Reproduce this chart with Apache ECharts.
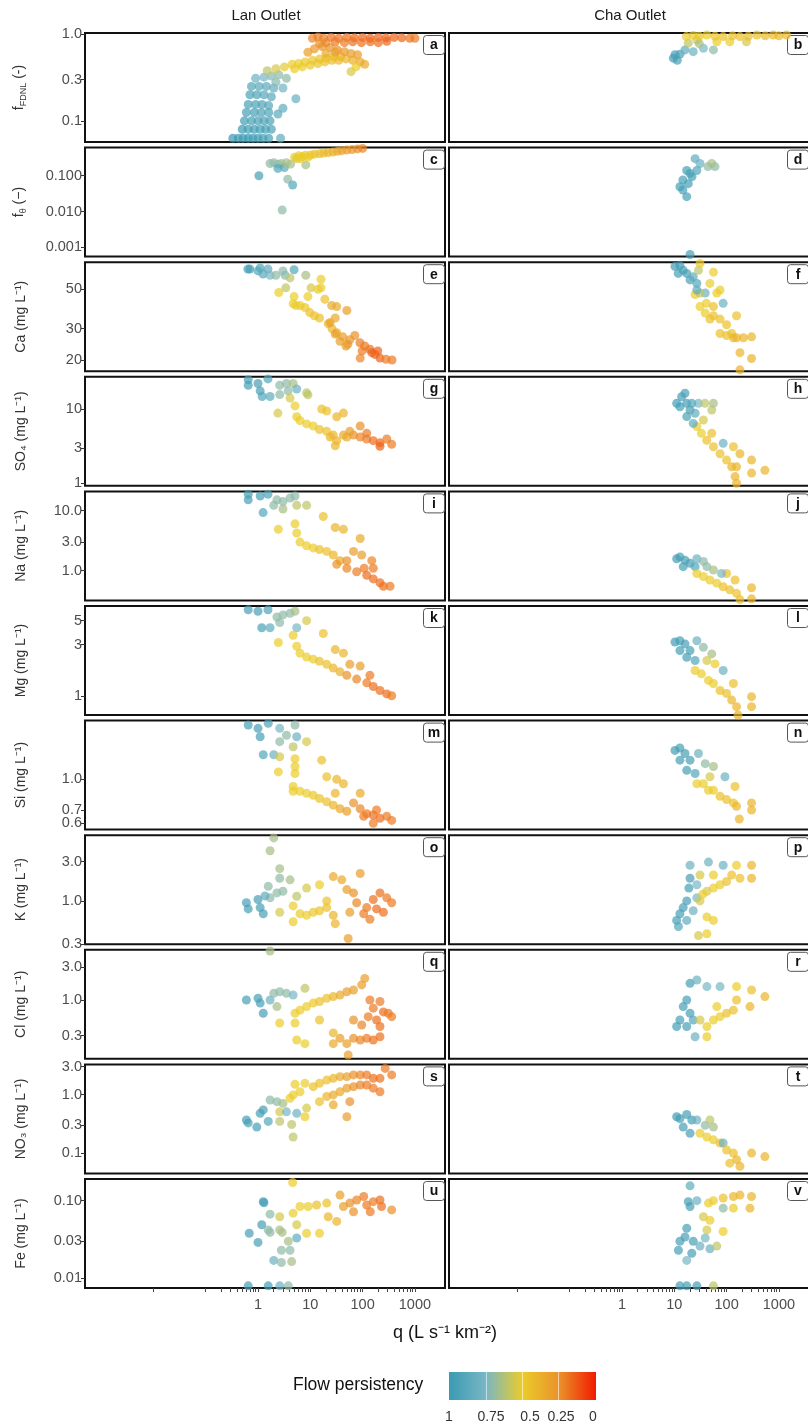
<!DOCTYPE html>
<html><head><meta charset="utf-8">
<script src="https://cdn.jsdelivr.net/npm/echarts@6/dist/echarts.min.js"></script>
<style>html,body{margin:0;padding:0;background:#fff}#c{width:808px;height:1428px}</style>
</head><body><div id="c"></div><script>
const FONT = 'Liberation Sans, Arial, Helvetica, sans-serif';

// ---- data: [q, value, flow persistency] ----
const lanFFDNL = [[0.33,0.063,1],[0.42,0.063,1],[0.52,0.063,1],[0.65,0.063,1],[0.8,0.063,0.98],[1.0,0.063,0.97],[1.25,0.063,0.96],[1.6,0.063,0.95],[2.7,0.063,0.85],
[0.5,0.08,1],[0.65,0.08,0.98],[0.85,0.08,0.97],[1.1,0.08,0.96],[1.4,0.08,0.95],[1.8,0.08,0.93],
[0.55,0.1,0.97],[0.75,0.1,0.96],[1.0,0.1,0.95],[1.3,0.1,0.94],[1.7,0.1,0.93],
[0.6,0.125,0.95],[0.85,0.125,0.95],[1.15,0.125,0.93],[1.6,0.125,0.92],[2.4,0.12,0.88],
[0.65,0.155,0.94],[0.9,0.155,0.93],[1.2,0.155,0.92],[1.6,0.15,0.9],[3.0,0.14,0.85],
[0.7,0.2,0.93],[0.95,0.2,0.92],[1.3,0.2,0.9],[1.8,0.19,0.88],[5.3,0.18,0.82],
[0.75,0.25,0.9],[1.05,0.25,0.88],[1.45,0.25,0.86],[2.0,0.24,0.84],[3.0,0.24,0.78],
[0.9,0.31,0.8],[1.3,0.32,0.76],[1.8,0.33,0.72],[2.5,0.34,0.7],[3.5,0.31,0.7],[2.2,0.28,0.72],
[1.5,0.38,0.6],[2.2,0.4,0.55],[3.2,0.42,0.52],[4.5,0.45,0.5],[6,0.46,0.5],[8,0.48,0.48],[11,0.5,0.47],[15,0.52,0.45],[20,0.53,0.45],[28,0.55,0.42],[38,0.55,0.4],
[5,0.4,0.5],[7,0.42,0.5],[10,0.44,0.48],[14,0.46,0.46],[19,0.48,0.45],[26,0.5,0.44],[35,0.5,0.42],[48,0.52,0.4],[65,0.5,0.38],[90,0.48,0.35],[60,0.37,0.55],[75,0.42,0.5],[110,0.45,0.35],
[9,0.62,0.3],[12,0.68,0.28],[17,0.72,0.25],[24,0.7,0.25],[33,0.66,0.25],[45,0.63,0.28],[20,0.6,0.35],[30,0.62,0.3],[60,0.6,0.3],[80,0.58,0.3],
[11,0.9,0.22],[14,0.93,0.2],[18,0.9,0.2],[25,0.92,0.18],[35,0.9,0.18],[50,0.92,0.17],[70,0.91,0.16],[100,0.92,0.15],[140,0.9,0.15],[200,0.92,0.15],[280,0.91,0.15],[400,0.92,0.15],[560,0.91,0.16],[800,0.9,0.18],[1000,0.9,0.2],
[20,0.8,0.22],[30,0.82,0.2],[45,0.8,0.2],[65,0.82,0.18],[95,0.8,0.18],[140,0.82,0.17],[200,0.8,0.17],[290,0.83,0.16],[15,0.78,0.25]];
const chaFFDNL = [[9.6,0.53,0.97],[10.3,0.58,0.96],[12.8,0.59,0.95],[11.4,0.5,0.96],[16,0.66,0.85],[23,0.63,0.8],[36,0.69,0.75],[56,0.66,0.7],[18.5,0.79,0.6],[27,0.86,0.55],[30,0.78,0.65],
[17,0.94,0.5],[23,0.97,0.5],[42,0.98,0.5],[86,0.94,0.45],[180,0.94,0.45],[380,0.98,0.45],[780,0.98,0.42],[1400,0.98,0.42],[115,0.82,0.5],[240,0.82,0.55],[65,0.82,0.5],
[30,0.95,0.48],[60,0.95,0.47],[130,0.96,0.45],[260,0.95,0.44],[550,0.96,0.43],[1000,0.96,0.42]];
const lanFTheta = [[1.04,0.1,0.95],[1.7,0.22,0.7],[2.0,0.23,0.7],[2.4,0.21,0.7],[2.8,0.22,0.68],[2.4,0.16,0.9],[3.2,0.17,0.88],[3.7,0.08,0.7],[4.6,0.055,0.9],[2.9,0.011,0.7],[3.5,0.23,0.65],[4.2,0.21,0.65],[8.2,0.2,0.65],
[5,0.33,0.5],[5.5,0.3,0.55],[6,0.36,0.5],[7,0.34,0.5],[8,0.37,0.48],[10,0.38,0.47],[12,0.4,0.45],[15,0.41,0.45],[18,0.43,0.42],[22,0.44,0.4],[27,0.46,0.38],[33,0.48,0.35],[40,0.5,0.32],[50,0.52,0.3],[63,0.54,0.27],[80,0.56,0.25],[100,0.58,0.22],[6.5,0.3,0.5],[9,0.33,0.5]];
const chaFTheta = [[25,0.3,0.85],[31,0.22,0.8],[44,0.18,0.7],[60,0.18,0.7],[52,0.22,0.65],[17.3,0.14,0.95],[20,0.116,0.95],[14.6,0.076,0.95],[12.8,0.049,0.95],[14.6,0.04,0.95],[17.3,0.026,0.95],[18.5,0.06,0.95],[21.8,0.094,0.95],[27,0.14,0.9],[20,0.00063,0.95]];
const lanCa = [[0.64,65,0.95],[0.7,65,0.95],[1.1,66,0.9],[1.0,63.5,0.9],[1.25,61,0.88],[1.55,65,0.85],[1.7,60,0.75],[2.2,60,0.7],[3,63.5,0.7],[3.3,60,0.72],[4.9,64.5,0.9],[4.1,58,0.6],[2.5,48,0.5],[3.4,51,0.6],[8.2,60,0.65],[10.3,51,0.55],[9,45.5,0.5],[16,51,0.5],[19,44,0.45],[16,57,0.5],[14,50,0.5],
[4.9,45.5,0.5],[4.7,41.5,0.5],[5.3,40.5,0.5],[6.4,40.5,0.5],[7.9,39.5,0.48],[9.8,37,0.45],[12,35.5,0.45],[15,34.5,0.45],[22,32,0.42],[26,30,0.4],[32,28.5,0.35],[42,27,0.3],[57,26,0.27],[71,27.5,0.25],[37,25.5,0.3],[52,24.5,0.25],[89,25,0.2],[110,24,0.2],[138,23,0.18],[150,22,0.15],[172,21.5,0.15],[195,22.5,0.15],[215,20.5,0.15],[280,20.2,0.2],[365,20,0.2],[98,22.5,0.2],[90,20.5,0.22],[48,24,0.3],[30,28,0.3],[24,32.5,0.3],[25.6,40.5,0.35],[32,40,0.35],[50,38,0.3],[30,34.5,0.35]];
const chaCa = [[10.3,67.3,0.97],[12.8,68,0.97],[14.8,64,0.95],[11.9,61.5,0.96],[17.3,61.5,0.95],[20,56.5,0.93],[23,58.9,0.85],[27,54,0.9],[29,64,0.6],[31,70,0.5],[56,62.5,0.5],[48,54,0.5],[39,47.7,0.8],[25,46.8,0.5],[31,47.7,0.6],[27,49.6,0.85],[41,41.7,0.5],[56,40,0.45],[86,41.7,0.8],[65,47.7,0.5],[75,49.6,0.5],[56,35.5,0.45],[75,34,0.45],[100,31.6,0.45],[125,28.2,0.45],[155,35.5,0.45],[155,26.7,0.4],[210,26.7,0.4],[300,27,0.4],[180,22,0.4],[300,20.4,0.4],[180,17.6,0.4],[135,26.7,0.4],[100,27.5,0.45],[75,28.2,0.45],[39,36.8,0.5],[48,34,0.45],[31,40,0.5]];
const lanSO4 = [[0.65,24.7,0.95],[0.65,20.8,0.95],[1.0,22,0.95],[1.55,25.4,0.9],[1.1,17.5,0.95],[1.2,14.7,0.9],[1.7,14.7,0.85],[2.6,20.8,0.7],[3.5,22,0.7],[4.7,22,0.65],[3.75,17.5,0.7],[5.5,18.6,0.8],[2.6,15.6,0.7],[2.4,8.8,0.55],[4.1,14,0.55],[5.1,11,0.5],[5.5,7.85,0.5],[8.5,16.5,0.6],[9,15.5,0.6],[16.5,10,0.45],[20.6,9.4,0.45],[32,7.85,0.4],[43,8.8,0.4],
[6.35,7,0.5],[8.5,6.3,0.5],[11.4,5.9,0.5],[15,5.3,0.45],[20.6,5,0.45],[27.5,4.45,0.4],[32,3.75,0.4],[30,3.2,0.4],[50,4.2,0.35],[67,4.45,0.25],[90,4.2,0.22],[120,3.95,0.2],[160,3.75,0.17],[215,3.5,0.17],[215,3.15,0.15],[290,3.95,0.2],[360,3.35,0.2],[90,5.9,0.25],[57,5,0.3],[120,4.7,0.2],[43,4.45,0.35],[24,4.2,0.4]];
const chaSO4 = [[13.8,14.6,0.95],[16,16.3,0.95],[11.1,11.9,0.97],[12.8,10.7,0.96],[17.3,11.9,0.95],[20,9.7,0.95],[17.3,7.9,0.93],[25,8.75,0.85],[29,11.9,0.75],[38.6,11.9,0.6],[52,9.7,0.6],[56,11.9,0.65],[27,5.8,0.5],[33,4.7,0.5],[41.7,3.8,0.45],[56,3.1,0.45],[75,2.5,0.45],[86,3.45,0.8],[100,2.05,0.45],[125,1.67,0.4],[155,1.67,0.4],[145,1.23,0.4],[155,1.0,0.4],[300,2.05,0.4],[300,1.37,0.4],[540,1.5,0.4],[135,3.1,0.45],[180,2.5,0.4],[52,4.7,0.45],[36,7.1,0.55],[23,6.4,0.85],[21.6,11.9,0.9]];
const lanNa = [[0.65,18.8,0.95],[0.65,15.2,0.95],[1.1,17.6,0.95],[1.55,18.8,0.92],[1.25,9.3,0.9],[2.3,15.2,0.7],[3,14.2,0.7],[4.1,16.3,0.7],[5.1,17.6,0.7],[2,12.3,0.7],[3,10.7,0.65],[5.5,12.3,0.6],[8.5,12.3,0.6],[2.45,4.9,0.5],[5.1,6.05,0.5],[5.5,4.25,0.5],[6.35,3,0.5],[8.5,2.6,0.5],[11.4,2.4,0.5],[15,2.25,0.45],[20.6,2.1,0.45],[27.5,1.83,0.4],[37,1.47,0.35],[17.7,8,0.45],[30,5.25,0.4],[43,4.9,0.4],[90,3.45,0.35],[67,2.1,0.3],[96,1.83,0.3],[32,1.28,0.25],[50,1.1,0.22],[77,0.96,0.2],[120,0.84,0.17],[160,0.73,0.17],[215,0.63,0.17],[250,0.55,0.18],[335,0.55,0.2],[160,1.1,0.2],[107,1.1,0.2],[50,1.47,0.25],[150,1.47,0.22]];
const chaNa = [[11.1,1.58,0.97],[12.8,1.7,0.96],[16,1.5,0.95],[20,1.33,0.95],[14.8,1.17,0.95],[25,1.17,0.9],[27,1.58,0.8],[36,1.43,0.7],[42,1.17,0.7],[56,1.03,0.65],[27,0.9,0.5],[36,0.8,0.5],[48,0.7,0.5],[65,0.62,0.5],[86,0.54,0.45],[115,0.48,0.45],[145,0.7,0.45],[155,0.42,0.45],[180,0.33,0.45],[300,0.52,0.4],[300,0.34,0.4],[100,0.9,0.45],[80,0.9,0.75]];
const lanMg = [[0.65,6.3,0.95],[1.0,6.1,0.95],[1.55,6.3,0.92],[1.18,4.3,0.93],[1.7,4.3,0.85],[2.3,5.4,0.7],[3,5.65,0.7],[4.1,5.85,0.7],[5.1,6.1,0.65],[2.6,4.8,0.7],[5.5,4.3,0.75],[8.5,5,0.55],[2.45,3.14,0.5],[4.7,3.66,0.5],[5.5,2.9,0.5],[6.35,2.5,0.5],[8.5,2.3,0.5],[11.4,2.2,0.5],[15,2.1,0.45],[20.6,1.97,0.45],[27.5,1.82,0.4],[37,1.68,0.38],[17.7,3.8,0.45],[30,2.7,0.4],[43,2.5,0.4],[57,1.97,0.3],[90,1.9,0.3],[50,1.56,0.25],[77,1.44,0.22],[120,1.33,0.2],[160,1.23,0.18],[215,1.13,0.18],[290,1.05,0.17],[360,1.01,0.2],[138,1.56,0.2]];
const chaMg = [[10.3,3.17,0.97],[12.8,3.26,0.96],[16,3.04,0.95],[12.8,2.64,0.96],[20,2.64,0.95],[17.3,2.29,0.95],[25,2.14,0.9],[27,3.26,0.8],[36,2.83,0.7],[52,2.46,0.65],[25,1.73,0.5],[33,1.61,0.5],[45,1.4,0.5],[56,1.31,0.5],[75,1.13,0.45],[100,1.06,0.45],[86,1.73,0.8],[135,1.31,0.45],[125,0.92,0.4],[155,0.8,0.4],[165,0.67,0.4],[300,0.99,0.4],[300,0.8,0.4],[60,1.99,0.5],[42,2.14,0.55]];
const lanSi = [[0.65,1.88,0.95],[1.0,1.81,0.95],[1.57,1.92,0.92],[1.1,1.64,0.95],[1.26,1.33,0.9],[2,1.33,0.8],[2.6,1.55,0.7],[3.5,1.67,0.7],[5.1,1.88,0.7],[2.6,1.81,0.75],[5.5,1.64,0.8],[4.7,1.46,0.6],[8.5,1.55,0.55],[2.6,1.3,0.55],[5.1,1.27,0.5],[2.45,1.09,0.5],[5.1,1.16,0.5],[5.1,1.07,0.5],[16.5,1.25,0.45],[20.6,1.03,0.45],[32,1.0,0.4],[43,0.95,0.4],
[4.7,0.92,0.5],[4.7,0.87,0.5],[6.35,0.87,0.5],[8.5,0.85,0.5],[11.4,0.83,0.48],[15,0.8,0.46],[20.6,0.77,0.45],[27.5,0.74,0.4],[30,0.85,0.4],[90,0.85,0.35],[37,0.71,0.35],[50,0.69,0.3],[67,0.76,0.25],[90,0.71,0.22],[120,0.67,0.2],[160,0.66,0.18],[185,0.7,0.2],[215,0.635,0.17],[160,0.6,0.2],[290,0.65,0.2],[360,0.62,0.2],[105,0.65,0.2]];
const chaSi = [[10.3,1.4,0.97],[12.8,1.44,0.96],[16,1.35,0.95],[12.8,1.25,0.96],[20,1.25,0.95],[17.3,1.11,0.95],[25,1.07,0.9],[29,1.35,0.8],[39,1.2,0.7],[56,1.16,0.65],[27,0.95,0.5],[36,0.95,0.5],[45,0.88,0.5],[56,0.88,0.5],[75,0.82,0.45],[100,0.79,0.45],[93,1.03,0.8],[145,0.92,0.45],[135,0.76,0.45],[155,0.73,0.4],[300,0.76,0.4],[300,0.7,0.4],[175,0.63,0.4],[48,1.03,0.55]];
const lanK = [[2,5.8,0.65],[1.7,4.05,0.65],[2.6,2.46,0.65],[2.6,1.88,0.7],[1.57,1.5,0.7],[4.1,1.8,0.65],[5.5,1.14,0.6],[8.5,1.43,0.55],[15,1.57,0.5],[1.7,1.09,0.7],[2.3,1.25,0.7],[3,1.31,0.7],[0.6,0.95,0.95],[0.65,0.8,0.95],[1.0,1.04,0.95],[1.1,0.83,0.95],[1.26,0.7,0.95],[1.36,1.15,0.85],[2.6,0.73,0.55],[4.7,0.87,0.5],[4.7,0.56,0.5],[6.35,0.7,0.5],[8.5,0.67,0.5],[11.4,0.73,0.48],[15,0.76,0.46],[20.6,0.83,0.45],[27.5,0.67,0.4],[30,0.53,0.4],[20.6,1.0,0.45],[27.5,1.97,0.35],[40,1.8,0.35],[50,1.37,0.3],[53,0.35,0.3],[57,0.73,0.3],[67,1.25,0.25],[90,2.15,0.3],[77,0.95,0.22],[105,0.7,0.2],[120,0.83,0.2],[160,1.04,0.18],[185,0.8,0.17],[215,1.25,0.18],[250,0.73,0.17],[290,1.09,0.2],[360,0.95,0.2],[138,0.6,0.2]];
const chaK = [[20,2.7,0.8],[45,2.95,0.8],[86,2.7,0.8],[155,2.7,0.5],[300,2.7,0.4],[31,2.06,0.55],[56,2.06,0.5],[125,2.06,0.45],[180,1.88,0.45],[300,1.88,0.4],[20,1.88,0.95],[19,1.43,0.95],[27,1.57,0.75],[42,1.31,0.55],[56,1.43,0.5],[75,1.57,0.5],[100,1.72,0.45],[17.3,1.0,0.95],[14.8,0.83,0.95],[12.8,0.7,0.96],[11.1,0.58,0.96],[12,0.49,0.9],[17.3,0.58,0.85],[23,0.76,0.8],[27,1.09,0.75],[29,0.38,0.55],[42,0.4,0.5],[42,0.64,0.5],[56,0.58,0.5],[31,1.0,0.55],[35,1.2,0.5]];
const lanCl = [[1.7,5.2,0.65],[0.6,1.0,0.95],[1.0,1.06,0.95],[1.1,0.9,0.95],[1.26,0.64,0.95],[1.7,1.0,0.8],[2,1.25,0.7],[2.6,1.32,0.7],[3.5,1.25,0.7],[4.7,1.18,0.75],[2.3,0.8,0.65],[2.6,0.46,0.5],[5.1,0.46,0.5],[7.9,1.48,0.6],[5.1,0.64,0.5],[6.35,0.71,0.5],[8.5,0.8,0.5],[11.4,0.9,0.48],[15,0.95,0.45],[20.6,1.06,0.45],[27.5,1.12,0.4],[37,1.18,0.35],[50,1.32,0.3],[67,1.4,0.3],[96,1.66,0.3],[110,2.07,0.3],[5.5,0.26,0.5],[7.9,0.23,0.5],[15,0.51,0.45],[27.5,0.33,0.4],[27.5,0.23,0.35],[37,0.275,0.3],[53,0.157,0.3],[50,0.23,0.3],[67,0.275,0.25],[90,0.26,0.22],[120,0.275,0.2],[160,0.26,0.18],[215,0.29,0.18],[67,0.51,0.25],[96,0.43,0.22],[128,0.57,0.2],[138,1.0,0.2],[160,0.76,0.2],[185,0.51,0.18],[215,0.41,0.18],[250,0.67,0.17],[310,0.64,0.2],[360,0.57,0.2],[215,0.95,0.2]];
const chaCl = [[20,1.75,0.95],[27,1.96,0.8],[42,1.57,0.75],[75,1.57,0.75],[155,1.57,0.5],[300,1.4,0.45],[540,1.12,0.4],[155,1.0,0.45],[280,0.8,0.4],[17.3,1.0,0.95],[14.8,0.8,0.95],[12.8,0.51,0.96],[11.1,0.41,0.96],[17.3,0.41,0.95],[23,0.51,0.9],[20,0.64,0.95],[25,0.29,0.8],[31,0.51,0.55],[42,0.41,0.5],[56,0.51,0.5],[75,0.57,0.5],[100,0.64,0.45],[135,0.71,0.45],[42,0.29,0.5],[65,0.8,0.5]];
const lanNO3 = [[0.6,0.37,0.95],[0.65,0.33,0.95],[0.95,0.28,0.95],[1.1,0.48,0.95],[1.26,0.55,0.95],[1.57,0.35,0.9],[1.7,0.81,0.7],[2.3,0.76,0.7],[2.6,0.51,0.55],[3,0.71,0.65],[3.5,0.51,0.75],[2.6,0.35,0.6],[4.4,0.31,0.6],[4.7,0.19,0.6],[5.5,0.48,0.8],[5.1,1.5,0.5],[7.9,1.56,0.5],[4.1,0.87,0.5],[4.7,0.99,0.5],[8.5,0.59,0.55],[7.9,0.42,0.5],[6.35,1.12,0.5],[11.4,1.37,0.45],[15,1.56,0.45],[20.6,1.77,0.45],[27.5,1.9,0.4],[37,2.03,0.35],[50,2.03,0.3],[67,2.17,0.25],[90,2.17,0.22],[120,2.17,0.2],[160,1.9,0.18],[215,1.9,0.18],[270,2.8,0.2],[360,2.17,0.2],[15,0.76,0.45],[20.6,0.93,0.4],[27.5,0.99,0.35],[37,1.12,0.35],[50,1.29,0.3],[67,1.37,0.25],[90,1.46,0.22],[120,1.46,0.2],[160,1.29,0.2],[215,1.12,0.2],[57,0.76,0.25],[50,0.42,0.3],[27.5,0.67,0.35]];
const chaNO3 = [[11.1,0.42,0.97],[12.8,0.39,0.96],[17.3,0.46,0.95],[21.6,0.37,0.95],[14.8,0.28,0.95],[20,0.22,0.95],[27,0.37,0.8],[39,0.3,0.7],[56,0.28,0.65],[31,0.22,0.5],[42,0.19,0.5],[56,0.17,0.5],[75,0.15,0.45],[86,0.15,0.8],[100,0.114,0.45],[135,0.101,0.45],[155,0.078,0.4],[180,0.06,0.4],[300,0.101,0.4],[540,0.088,0.4],[115,0.068,0.45],[48,0.37,0.6]];
const lanFe = [[4.6,0.171,0.5],[1.26,0.097,0.95],[1.3,0.094,0.95],[1.7,0.067,0.7],[1.18,0.049,0.95],[0.68,0.038,0.95],[1.0,0.029,0.95],[1.57,0.042,0.7],[1.7,0.039,0.7],[2.6,0.062,0.55],[2.6,0.042,0.65],[2.9,0.039,0.65],[3.8,0.03,0.65],[2.8,0.023,0.7],[4.1,0.023,0.7],[2.0,0.017,0.8],[2.8,0.016,0.7],[4.4,0.0164,0.65],[5.5,0.033,0.85],[0.65,0.008,0.95],[1.57,0.008,0.95],[2.6,0.008,0.8],[3.8,0.008,0.7],[4.7,0.069,0.5],[5.5,0.049,0.55],[6.35,0.084,0.5],[9.1,0.084,0.5],[8.5,0.038,0.5],[15,0.038,0.5],[13.2,0.088,0.45],[20.6,0.093,0.45],[22,0.062,0.4],[32,0.054,0.4],[37,0.118,0.3],[43,0.084,0.3],[57,0.093,0.25],[77,0.102,0.22],[105,0.113,0.2],[120,0.088,0.2],[160,0.097,0.2],[215,0.102,0.18],[230,0.084,0.18],[360,0.076,0.25],[67,0.072,0.25],[140,0.072,0.2]];
const chaFe = [[20,0.155,0.85],[20,0.084,0.95],[18.5,0.097,0.95],[27,0.1,0.8],[17.3,0.044,0.95],[16,0.034,0.95],[12.8,0.03,0.95],[12,0.023,0.95],[17.3,0.017,0.75],[21.6,0.021,0.95],[23,0.03,0.95],[31,0.026,0.8],[39,0.033,0.75],[48,0.024,0.8],[65,0.026,0.6],[42,0.042,0.55],[45,0.093,0.5],[56,0.1,0.5],[36,0.062,0.55],[48,0.056,0.5],[86,0.04,0.5],[86,0.08,0.7],[135,0.08,0.5],[180,0.118,0.4],[135,0.113,0.4],[86,0.108,0.45],[300,0.113,0.4],[280,0.08,0.4],[12.8,0.008,0.95],[17.3,0.008,0.95],[27,0.008,0.95],[56,0.008,0.6]];

// ---- axes / ticks ----
const panelLetters = ['a','b','c','d','e','f','g','h','i','j','k','l','m','n','o','p','q','r','s','t','u','v'];
const columnTitles = ['Lan Outlet','Cha Outlet'];
const yTitles = ['{t|f}{s|FDNL}{t| (-)}','{t|f}{s|θ}{t| (−)}','Ca (mg L⁻¹)','SO₄ (mg L⁻¹)','Na (mg L⁻¹)','Mg (mg L⁻¹)','Si (mg L⁻¹)','K (mg L⁻¹)','Cl (mg L⁻¹)','NO₃ (mg L⁻¹)','Fe (mg L⁻¹)'];
const yTicks = [[0.1,0.3,1],[0.001,0.01,0.1],[20,30,50],[1,3,10],[0.3,1,3,10],[1,3,5],[0.6,0.7,1],[0.3,1,3],[0.3,1,3],[0.1,0.3,1,3],[0.01,0.03,0.1]];
const yTickLabels = [['0.1','0.3','1.0'],['0.001','0.010','0.100'],['20','30','50'],['1','3','10'],['0.3','1.0','3.0','10.0'],['1','3','5'],['0.6','0.7','1.0'],['0.3','1.0','3.0'],['0.3','1.0','3.0'],['0.1','0.3','1.0','3.0'],['0.01','0.03','0.10']];
// tick labels that sit too close to a neighbour are drawn on an overlaid twin axis
const yCrowdedLabels = [[],[],[],[],[],[],[0.7],[],[],[],[]];
const yRanges = [[0.057,1.035],[0.00055,0.61],[17.3,71.1],[0.925,27.1],[0.32,21],[0.67,6.83],[0.557,1.98],[0.299,6.25],[0.138,5.42],[0.0455,3.28],[0.0075,0.19]];
const xRange = [0.000492,3764];
const xLabelValues = [1,10,100,1000];
const xTickValues = [0.01,0.1,0.2,0.3,0.4,0.5,0.6,0.7,0.8,0.9,1,2,3,4,5,6,7,8,9,10,20,30,40,50,60,70,80,90,100,200,300,400,500,600,700,800,900,1000];
const legendBreaks = ['1','0.75','0.5','0.25','0'];
const palette = ['#F21A00','#EA922A','#EBCC2A','#78B7C5','#3B9AB2']; // persistency 0 -> 1

const lanData = [lanFFDNL,lanFTheta,lanCa,lanSO4,lanNa,lanMg,lanSi,lanK,lanCl,lanNO3,lanFe];
const chaData = [chaFFDNL,chaFTheta,chaCa,chaSO4,chaNa,chaMg,chaSi,chaK,chaCl,chaNO3,chaFe];

// ---- layout ----
const colLeft = [85, 449], colW = 360;
const rowTop0 = 33, rowPitch = 114.6, rowH = 109;
const nRows = 11;

function labelFormatter(tv, labs) {
  return v => { let k = 0, best = 1e9; tv.forEach((t, i) => { const d = Math.abs(Math.log(t) - Math.log(v)); if (d < best) {best = d; k = i;} }); return labs[k]; };
}
const yLabelStyle = {color: '#4D4D4D', fontSize: 14.5, fontFamily: FONT, margin: 3, showMinLabel: true, showMaxLabel: true, hideOverlap: false};

const grids = [], xAxes = [], yAxes = [], series = [], graphics = [], extraY = [];
for (let r = 0; r < nRows; r++) {
  for (let c = 0; c < 2; c++) {
    const idx = r * 2 + c;
    const top = rowTop0 + r * rowPitch;
    grids.push({left: colLeft[c], top: top, width: colW, height: rowH, show: true,
      borderColor: '#111', borderWidth: 2, backgroundColor: 'transparent', containLabel: false, outerBoundsMode: 'none'});
    const last = r === nRows - 1;
    xAxes.push({type: 'log', logBase: 10, gridIndex: idx, min: xRange[0], max: xRange[1],
      axisLine: {show: false}, splitLine: {show: false},
      axisTick: {show: last, length: 4, lineStyle: {color: '#444', width: 1}, customValues: xTickValues},
      axisLabel: {show: last, customValues: xLabelValues, color: '#4D4D4D', fontSize: 14.5, fontFamily: FONT, margin: 9,
        showMinLabel: true, showMaxLabel: true, formatter: v => String(Math.round(v))}
    });
    const labs = yTickLabels[r], tv = yTicks[r];
    const crowd = yCrowdedLabels[r];
    const mainLabels = tv.filter(t => crowd.indexOf(t) < 0);
    yAxes.push({type: 'log', logBase: 10, gridIndex: idx, position: 'left', min: yRanges[r][0], max: yRanges[r][1],
      axisLine: {show: false}, splitLine: {show: false},
      name: c === 0 ? yTitles[r] : '', nameLocation: 'middle', nameRotate: 90, nameGap: 57,
      nameTextStyle: {color: '#333', fontSize: 14, fontFamily: FONT,
        rich: {t: {fontSize: 14, color: '#333', fontFamily: FONT, lineHeight: 18},
               s: {fontSize: 9, color: '#333', fontFamily: FONT, verticalAlign: 'bottom', lineHeight: 9}}},
      axisTick: {show: c === 0, length: 4, lineStyle: {color: '#333', width: 1}, customValues: tv},
      axisLabel: Object.assign({show: c === 0, customValues: mainLabels, formatter: labelFormatter(tv, labs)}, yLabelStyle)
    });
    if (c === 0 && crowd.length) {
      extraY.push({type: 'log', logBase: 10, gridIndex: idx, position: 'left', offset: 0, min: yRanges[r][0], max: yRanges[r][1],
        axisLine: {show: false, onZero: false}, splitLine: {show: false}, axisTick: {show: false},
        axisLabel: Object.assign({show: true, customValues: crowd, formatter: labelFormatter(tv, labs)}, yLabelStyle)});
    }
    series.push({type: 'scatter', xAxisIndex: idx, yAxisIndex: idx, data: (c === 0 ? lanData : chaData)[r],
      symbolSize: 9, itemStyle: {opacity: 0.7}, silent: true, clip: true});
    const right = colLeft[c] + colW;
    graphics.push({type: 'group', left: right - 22, top: top + 2, children: [
      {type: 'rect', shape: {x: 0, y: 0, width: 21, height: 19, r: 3}, style: {fill: '#fff', stroke: '#555', lineWidth: 1}},
      {type: 'text', style: {x: 10.5, y: 10, text: panelLetters[idx], align: 'center', verticalAlign: 'middle', fill: '#111', font: 'bold 14px ' + FONT}}
    ]});
  }
}
graphics.push({type: 'text', style: {x: 266, y: 16, text: columnTitles[0], align: 'center', verticalAlign: 'middle', fill: '#1a1a1a', font: '15px ' + FONT}});
graphics.push({type: 'text', style: {x: 630, y: 16, text: columnTitles[1], align: 'center', verticalAlign: 'middle', fill: '#1a1a1a', font: '15px ' + FONT}});
graphics.push({type: 'text', style: {x: 445, y: 1333, text: 'q (L s⁻¹ km⁻²)', align: 'center', verticalAlign: 'middle', fill: '#111', font: '18px ' + FONT}});
graphics.push({type: 'text', style: {x: 293, y: 1385, text: 'Flow persistency', align: 'left', verticalAlign: 'middle', fill: '#111', font: '17.5px ' + FONT}});
graphics.push({type: 'rect', shape: {x: 449, y: 1372, width: 147, height: 28},
  style: {fill: new echarts.graphic.LinearGradient(0, 0, 1, 0, [
    {offset: 0, color: palette[4]}, {offset: 0.25, color: palette[3]}, {offset: 0.5, color: palette[2]}, {offset: 0.75, color: palette[1]}, {offset: 1, color: palette[0]}])}});
[486.5, 522.5, 558.5].forEach(x => {
  graphics.push({type: 'line', shape: {x1: x, y1: 1372, x2: x, y2: 1400}, style: {stroke: 'rgba(255,255,255,0.55)', lineWidth: 1}});
});
const legendLabelX = [449, 491, 530, 561, 593];
legendBreaks.forEach((t, i) => {
  graphics.push({type: 'text', style: {x: legendLabelX[i], y: 1417, text: t, align: 'center', verticalAlign: 'middle', fill: '#333', font: '14px ' + FONT}});
});

const chart = echarts.init(document.getElementById('c'), null, {renderer: 'canvas'});
chart.setOption({
  animation: false,
  backgroundColor: '#fff',
  grid: grids, xAxis: xAxes, yAxis: yAxes.concat(extraY), series: series,
  visualMap: {type: 'continuous', show: false, min: 0, max: 1, dimension: 2, seriesIndex: series.map((s, i) => i),
    inRange: {color: palette}},
  graphic: graphics
});
</script></body></html>
